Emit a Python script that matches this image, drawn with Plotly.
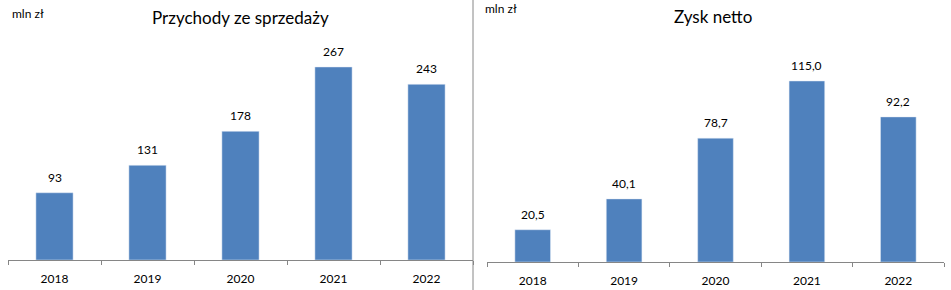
import plotly.graph_objects as go

years = ["2018", "2019", "2020", "2021", "2022"]
revenue = [93, 131, 178, 267, 243]
revenue_labels = ["93", "131", "178", "267", "243"]
net_profit = [20.5, 40.1, 78.7, 115.0, 92.2]
net_profit_labels = ["20,5", "40,1", "78,7", "115,0", "92,2"]

W, H = 951, 290
BAR = "#4F81BD"
AXC = "#868686"
FONT = "Lato, Noto Sans, sans-serif"

fig = go.Figure()
fig.add_trace(go.Bar(x=years, y=revenue, marker_color=BAR, width=0.4,
                     xaxis="x", yaxis="y", showlegend=False, hoverinfo="x+y"))
fig.add_trace(go.Bar(x=years, y=net_profit, marker_color=BAR, width=0.39,
                     xaxis="x2", yaxis="y2", showlegend=False, hoverinfo="x+y"))

def xa(domain):
    return dict(domain=domain, type="category", range=[-0.5, len(years) - 0.5],
                showline=True, linecolor=AXC, linewidth=1,
                ticks="outside", tickson="boundaries", ticklen=4, tickcolor=AXC,
                ticklabelstandoff=8,
                tickfont=dict(size=12, color="black", family=FONT),
                showgrid=False, zeroline=False, fixedrange=True)

def ya(domain, rng, anchor):
    return dict(domain=domain, range=rng, visible=False, showgrid=False,
                zeroline=False, anchor=anchor)

annotations = [
    dict(text="mln zł", x=10 / W, y=1 - 14 / H, xref="paper", yref="paper",
         xanchor="left", yanchor="middle", showarrow=False,
         font=dict(size=12, color="black", family=FONT)),
    dict(text="Przychody ze sprzedaży", x=240 / W, y=1 - 17 / H, xref="paper", yref="paper",
         xanchor="center", yanchor="middle", showarrow=False,
         font=dict(size=17, color="black", family=FONT)),
    dict(text="mln zł", x=483 / W, y=1 - 8 / H, xref="paper", yref="paper",
         xanchor="left", yanchor="middle", showarrow=False,
         font=dict(size=12, color="black", family=FONT)),
    dict(text="Zysk netto", x=713 / W, y=1 - 16 / H, xref="paper", yref="paper",
         xanchor="center", yanchor="middle", showarrow=False,
         font=dict(size=17, color="black", family=FONT)),
]
for i, (v, t) in enumerate(zip(revenue, revenue_labels)):
    annotations.append(dict(text=t, x=i, y=v, xref="x", yref="y", xanchor="center",
                            yanchor="bottom", yshift=6, showarrow=False,
                            font=dict(size=12, color="black", family=FONT)))
for i, (v, t) in enumerate(zip(net_profit, net_profit_labels)):
    annotations.append(dict(text=t, x=i, y=v, xref="x2", yref="y2", xanchor="center",
                            yanchor="bottom", yshift=6, showarrow=False,
                            font=dict(size=12, color="black", family=FONT)))

fig.update_layout(
    width=W, height=H, margin=dict(l=0, r=0, t=0, b=0),
    paper_bgcolor="white", plot_bgcolor="white", bargap=0.6,
    xaxis=dict(**xa([8 / W, 473 / W]), anchor="y"),
    yaxis=ya([30 / H, 1], [0, 260 / 0.723], "x"),
    xaxis2=dict(**xa([487 / W, 944 / W]), anchor="y2"),
    yaxis2=ya([28 / H, 1], [0, 262 / 1.574], "x2"),
    font=dict(family=FONT),
    shapes=[dict(type="line", xref="paper", yref="paper", x0=473 / W, x1=473 / W,
                 y0=0, y1=1, line=dict(color=AXC, width=1))],
    annotations=annotations,
)

fig.write_html("out.html")
